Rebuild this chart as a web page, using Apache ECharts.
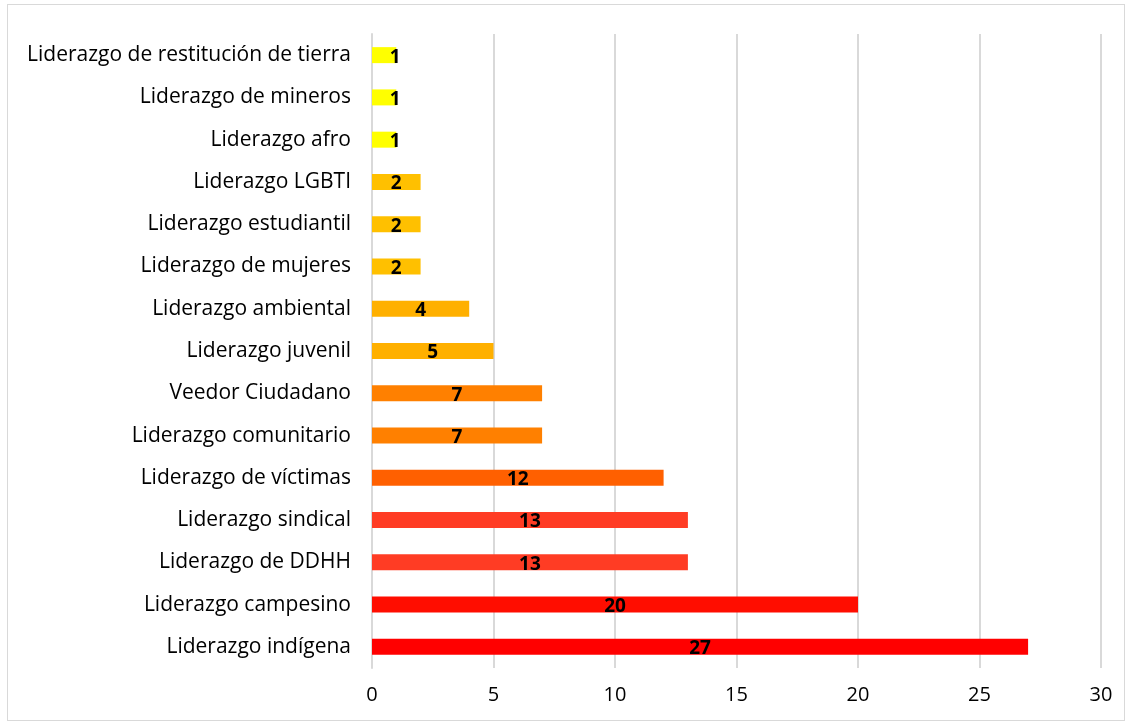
<!DOCTYPE html>
<html>
<head>
<meta charset="utf-8">
<script src="https://cdn.jsdelivr.net/npm/echarts@6/dist/echarts.min.js"></script>
<style>
  html, body { margin: 0; padding: 0; background: #fff; }
  #frame { position: absolute; left: 7px; top: 4px; width: 1116px; height: 715px; border: 1px solid #d9d9d9; }
  #chart { position: absolute; left: 0; top: 0; width: 1131px; height: 725px; }
</style>
</head>
<body>
<div id="frame"></div>
<div id="chart"></div>
<script>
// bottom to top, as echarts draws a category y axis
var categories = [
  'Liderazgo indígena',
  'Liderazgo campesino',
  'Liderazgo de DDHH',
  'Liderazgo sindical',
  'Liderazgo de víctimas',
  'Liderazgo comunitario',
  'Veedor Ciudadano',
  'Liderazgo juvenil',
  'Liderazgo ambiental',
  'Liderazgo de mujeres',
  'Liderazgo estudiantil',
  'Liderazgo LGBTI',
  'Liderazgo afro',
  'Liderazgo de mineros',
  'Liderazgo de restitución de tierra'
]
var values = [27, 20, 13, 13, 12, 7, 7, 5, 4, 2, 2, 2, 1, 1, 1]
var barColors = [
  '#ff0000', '#ff0d00', '#ff3c24', '#ff3c24', '#ff6000',
  '#ff8000', '#ff8000', '#ffb000', '#ffb000', '#ffc000',
  '#ffc000', '#ffc000', '#ffff00', '#ffff00', '#ffff00'
]
var xTicks = [0, 5, 10, 15, 20, 25, 30]

var font = '"Open Sans", Lato, sans-serif'
var chart = echarts.init(document.getElementById('chart'))

var data = []
for (var i = 0; i < values.length; i++) {
  var item = { value: values[i], itemStyle: { color: barColors[i] } }
  if (values[i] === 1) {
    item.label = { offset: [11, 2] }
  }
  data.push(item)
}

var option = {
  animation: false,
  grid: { left: 372, right: 30, top: 34, bottom: 57 },
  xAxis: {
    type: 'value',
    min: xTicks[0],
    max: xTicks[xTicks.length - 1],
    interval: 5,
    axisLine: { show: false },
    axisTick: { show: false },
    axisLabel: { color: '#000', fontSize: 20, fontFamily: font, margin: 17 },
    splitLine: { lineStyle: { color: '#d9d9d9', width: 2 } }
  },
  yAxis: {
    type: 'category',
    data: categories,
    axisTick: { show: false },
    axisLine: { lineStyle: { color: '#d9d9d9', width: 2 } },
    axisLabel: { color: '#000', fontSize: 21, fontFamily: font, margin: 21, padding: [3, 0, 0, 0] }
  },
  series: [
    {
      type: 'bar',
      data: data,
      barWidth: 16,
      label: {
        show: true,
        position: 'inside',
        offset: [0, 2],
        color: '#000',
        fontWeight: 'bold',
        fontSize: 19,
        fontFamily: font
      }
    }
  ]
}
chart.setOption(option)
</script>
</body>
</html>
